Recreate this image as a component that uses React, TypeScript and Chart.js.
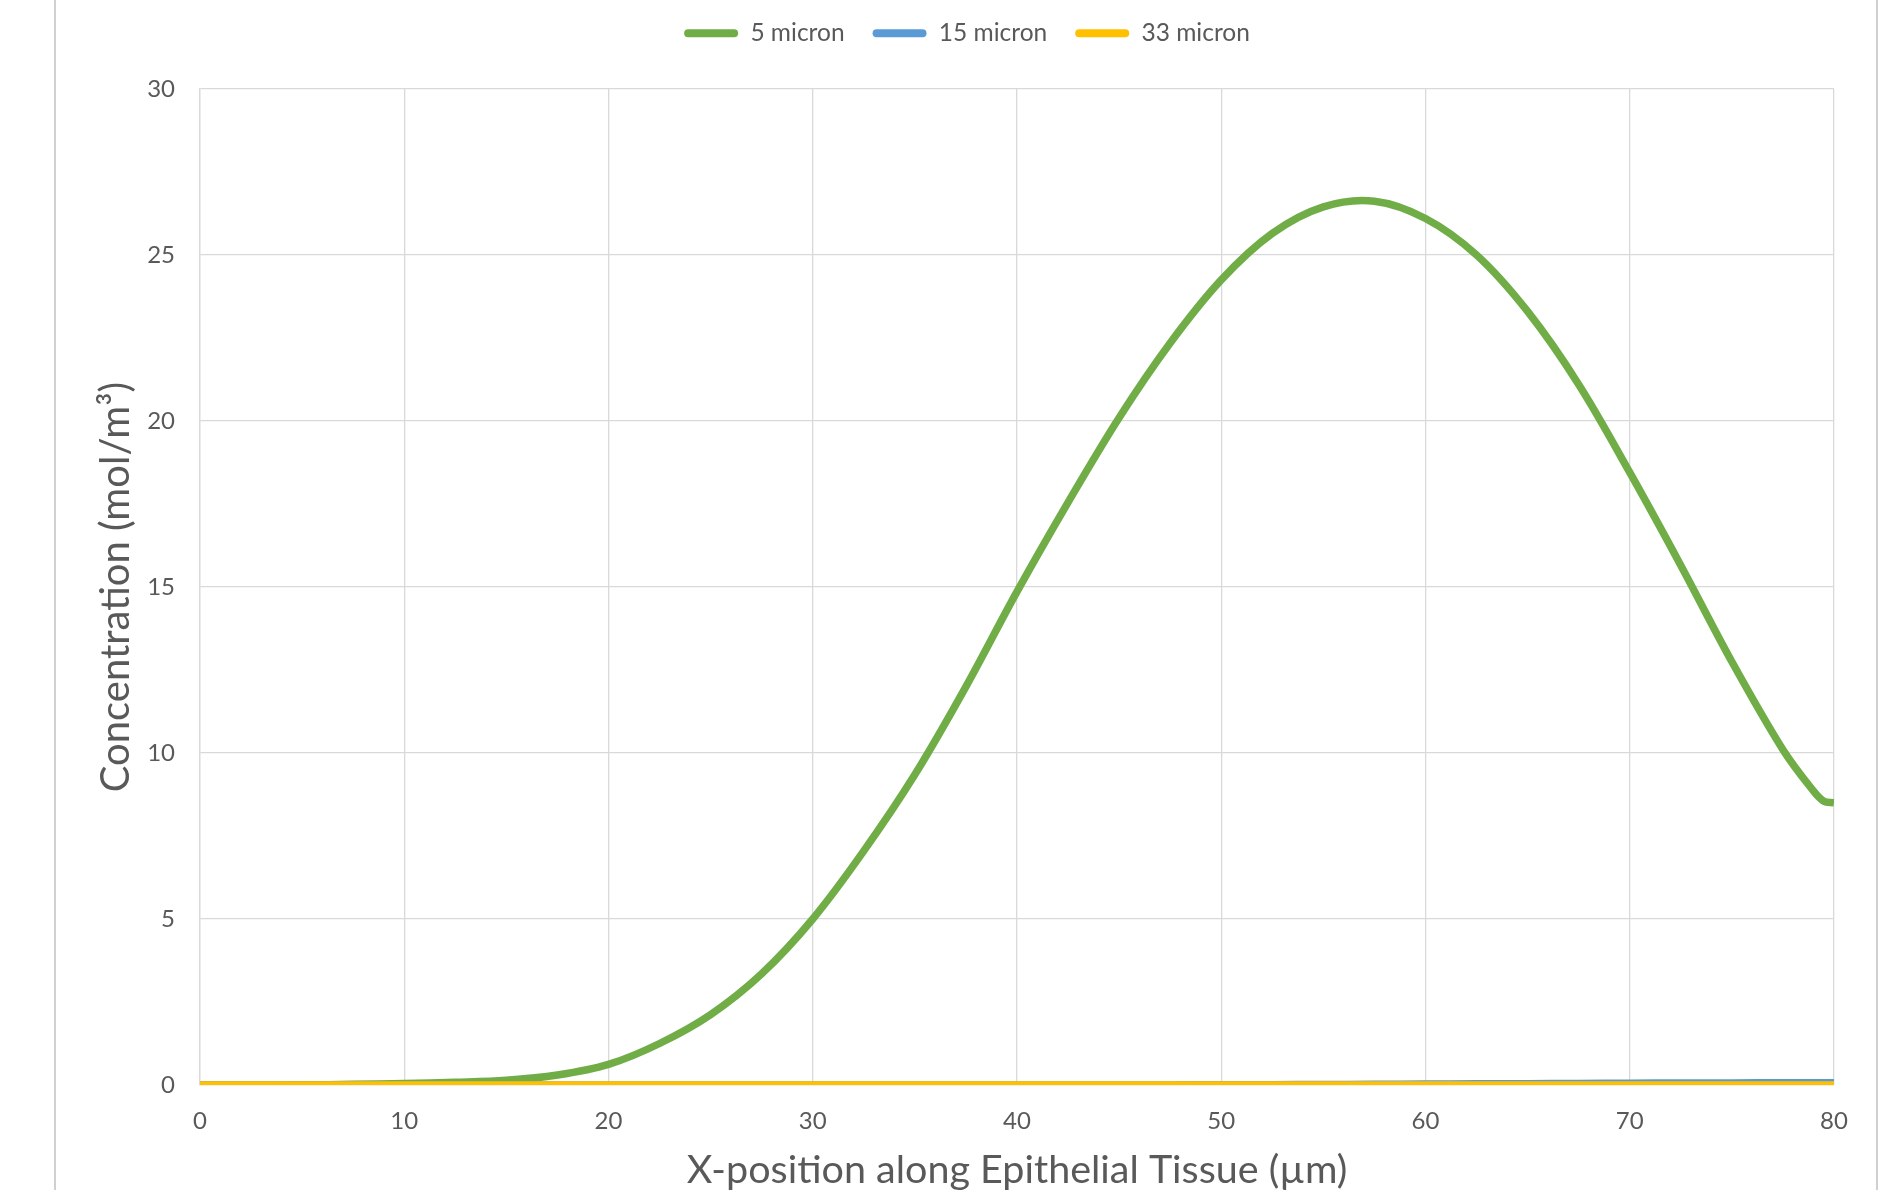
import React, { useEffect, useRef } from "react";
import { Chart, registerables } from "chart.js";

Chart.register(...registerables);

const xPositions = [0, 2.5, 5, 7.5, 10, 12.5, 15, 17.5, 20, 22.5, 25, 27.5, 30, 32.5, 35, 37.5, 40, 42.5, 45, 47.5, 50, 52.5, 55, 57.5, 60, 62.5, 65, 67.5, 70, 72.5, 75, 77.5, 79, 79.5, 80];
const micron5 = [0, 0, 0.005, 0.02, 0.045, 0.08, 0.14, 0.3, 0.62, 1.25, 2.12, 3.35, 5.0, 7.05, 9.35, 12.0, 14.86, 17.55, 20.1, 22.35, 24.25, 25.65, 26.45, 26.62, 26.1, 25.0, 23.3, 21.1, 18.45, 15.65, 12.75, 10.1, 8.85, 8.55, 8.5];
const micron15 = [0, 0, 0, 0, 0, 0, 0, 0, 0, 0, 0, 0, 0, 0, 0, 0, 0, 0, 0, 0.003, 0.006, 0.01, 0.015, 0.02, 0.027, 0.034, 0.041, 0.048, 0.054, 0.059, 0.063, 0.066, 0.067, 0.067, 0.068];
const micron33 = [0, 0, 0, 0, 0, 0, 0, 0, 0, 0, 0, 0, 0, 0, 0, 0, 0, 0, 0, 0, 0, 0, 0, 0, 0, 0, 0, 0, 0, 0, 0, 0, 0, 0, 0];
const seriesNames = ["5 micron", "15 micron", "33 micron"];
const seriesColors = ["#70AD47", "#5B9BD5", "#FFC000"];
const xTitle = "X-position along Epithelial Tissue (µm)";
const yTitle = "Concentration (mol/m³)";

const TEXT = "#595959";
const GRID = "#D9D9D9";

export default function App() {
  const ref = useRef<HTMLCanvasElement | null>(null);
  useEffect(() => {
    if (!ref.current) return;
    Chart.defaults.font.family = "Lato";
    const toPts = (ys: number[]) => xPositions.map((x, i) => ({ x, y: ys[i] }));
    const all = [micron5, micron15, micron33];
    const datasets = all.map((ys, i) => ({
      label: seriesNames[i],
      data: toPts(ys),
      borderColor: seriesColors[i],
      backgroundColor: seriesColors[i],
      borderWidth: 7.5,
      pointRadius: 0,
      tension: 0.35,
      capBezierPoints: false,
      order: 3 - i,
      borderCapStyle: "butt" as const,
      borderJoinStyle: "round" as const,
    }));
    const legendPatch = {
      id: "legendPatch",
      beforeLayout(chart: any) {
        const lg = chart.legend;
        if (lg && !lg._patched) {
          const orig = lg.fit.bind(lg);
          lg.fit = function () {
            orig();
            this.height = 96;
          };
          lg._patched = true;
        }
      },
    };
    const chart = new Chart(ref.current, {
      type: "line",
      data: { datasets },
      plugins: [legendPatch],
      options: {
        animation: false,
        responsive: false,
        layout: { padding: { top: -7, left: 100, right: 66, bottom: 0 } },
        plugins: {
          tooltip: { enabled: false },
          legend: {
            position: "top",
            reverse: true,
            labels: {
              color: TEXT,
              font: { size: 24.5, family: "Lato" },
              boxWidth: 54,
              boxHeight: 8,
              padding: 28,
              useBorderRadius: true,
              borderRadius: 4,
              generateLabels: (c: any) => {
                const items = (Chart.defaults.plugins.legend.labels as any).generateLabels(c);
                return items.map((it: any) => ({ ...it, lineWidth: 0 }));
              },
            },
          },
        },
        scales: {
          x: {
            type: "linear",
            min: 0,
            max: 80,
            afterFit: (s: any) => {
              s.height = 105;
            },
            ticks: { stepSize: 10, color: TEXT, font: { size: 24 }, padding: 22, maxRotation: 0 },
            grid: { color: GRID, lineWidth: 1.3, drawTicks: false },
            border: { color: GRID, width: 1.3 },
            title: {
              display: true,
              text: xTitle,
              color: TEXT,
              font: { size: 39.5, lineHeight: 1.0 },
              padding: { top: 0, bottom: 0 },
            },
          },
          y: {
            min: 0,
            max: 30,
            afterFit: (s: any) => {
              s.width = 100;
            },
            ticks: { stepSize: 5, color: TEXT, font: { size: 24 }, padding: 25 },
            grid: { color: GRID, lineWidth: 1.3, drawTicks: false },
            border: { color: GRID, width: 1.3 },
            title: {
              display: true,
              text: yTitle,
              color: TEXT,
              font: { size: 40, lineHeight: 1.0 },
              padding: { top: -4, bottom: 0 },
            },
          },
        },
      },
    } as any);
    return () => chart.destroy();
  }, []);
  return (
    <div style={{ position: "fixed", left: 0, top: 0, width: 1900, height: 1190, background: "#fff", overflow: "hidden" }}>
      <div style={{ position: "absolute", left: 54, top: 0, width: 1.5, height: 1190, background: "#D0D0D0" }} />
      <div style={{ position: "absolute", left: 1876, top: 0, width: 1.5, height: 1190, background: "#D0D0D0" }} />
      <canvas ref={ref} width={1900} height={1190} style={{ position: "absolute", left: 0, top: 0, width: 1900, height: 1190 }} />
    </div>
  );
}
